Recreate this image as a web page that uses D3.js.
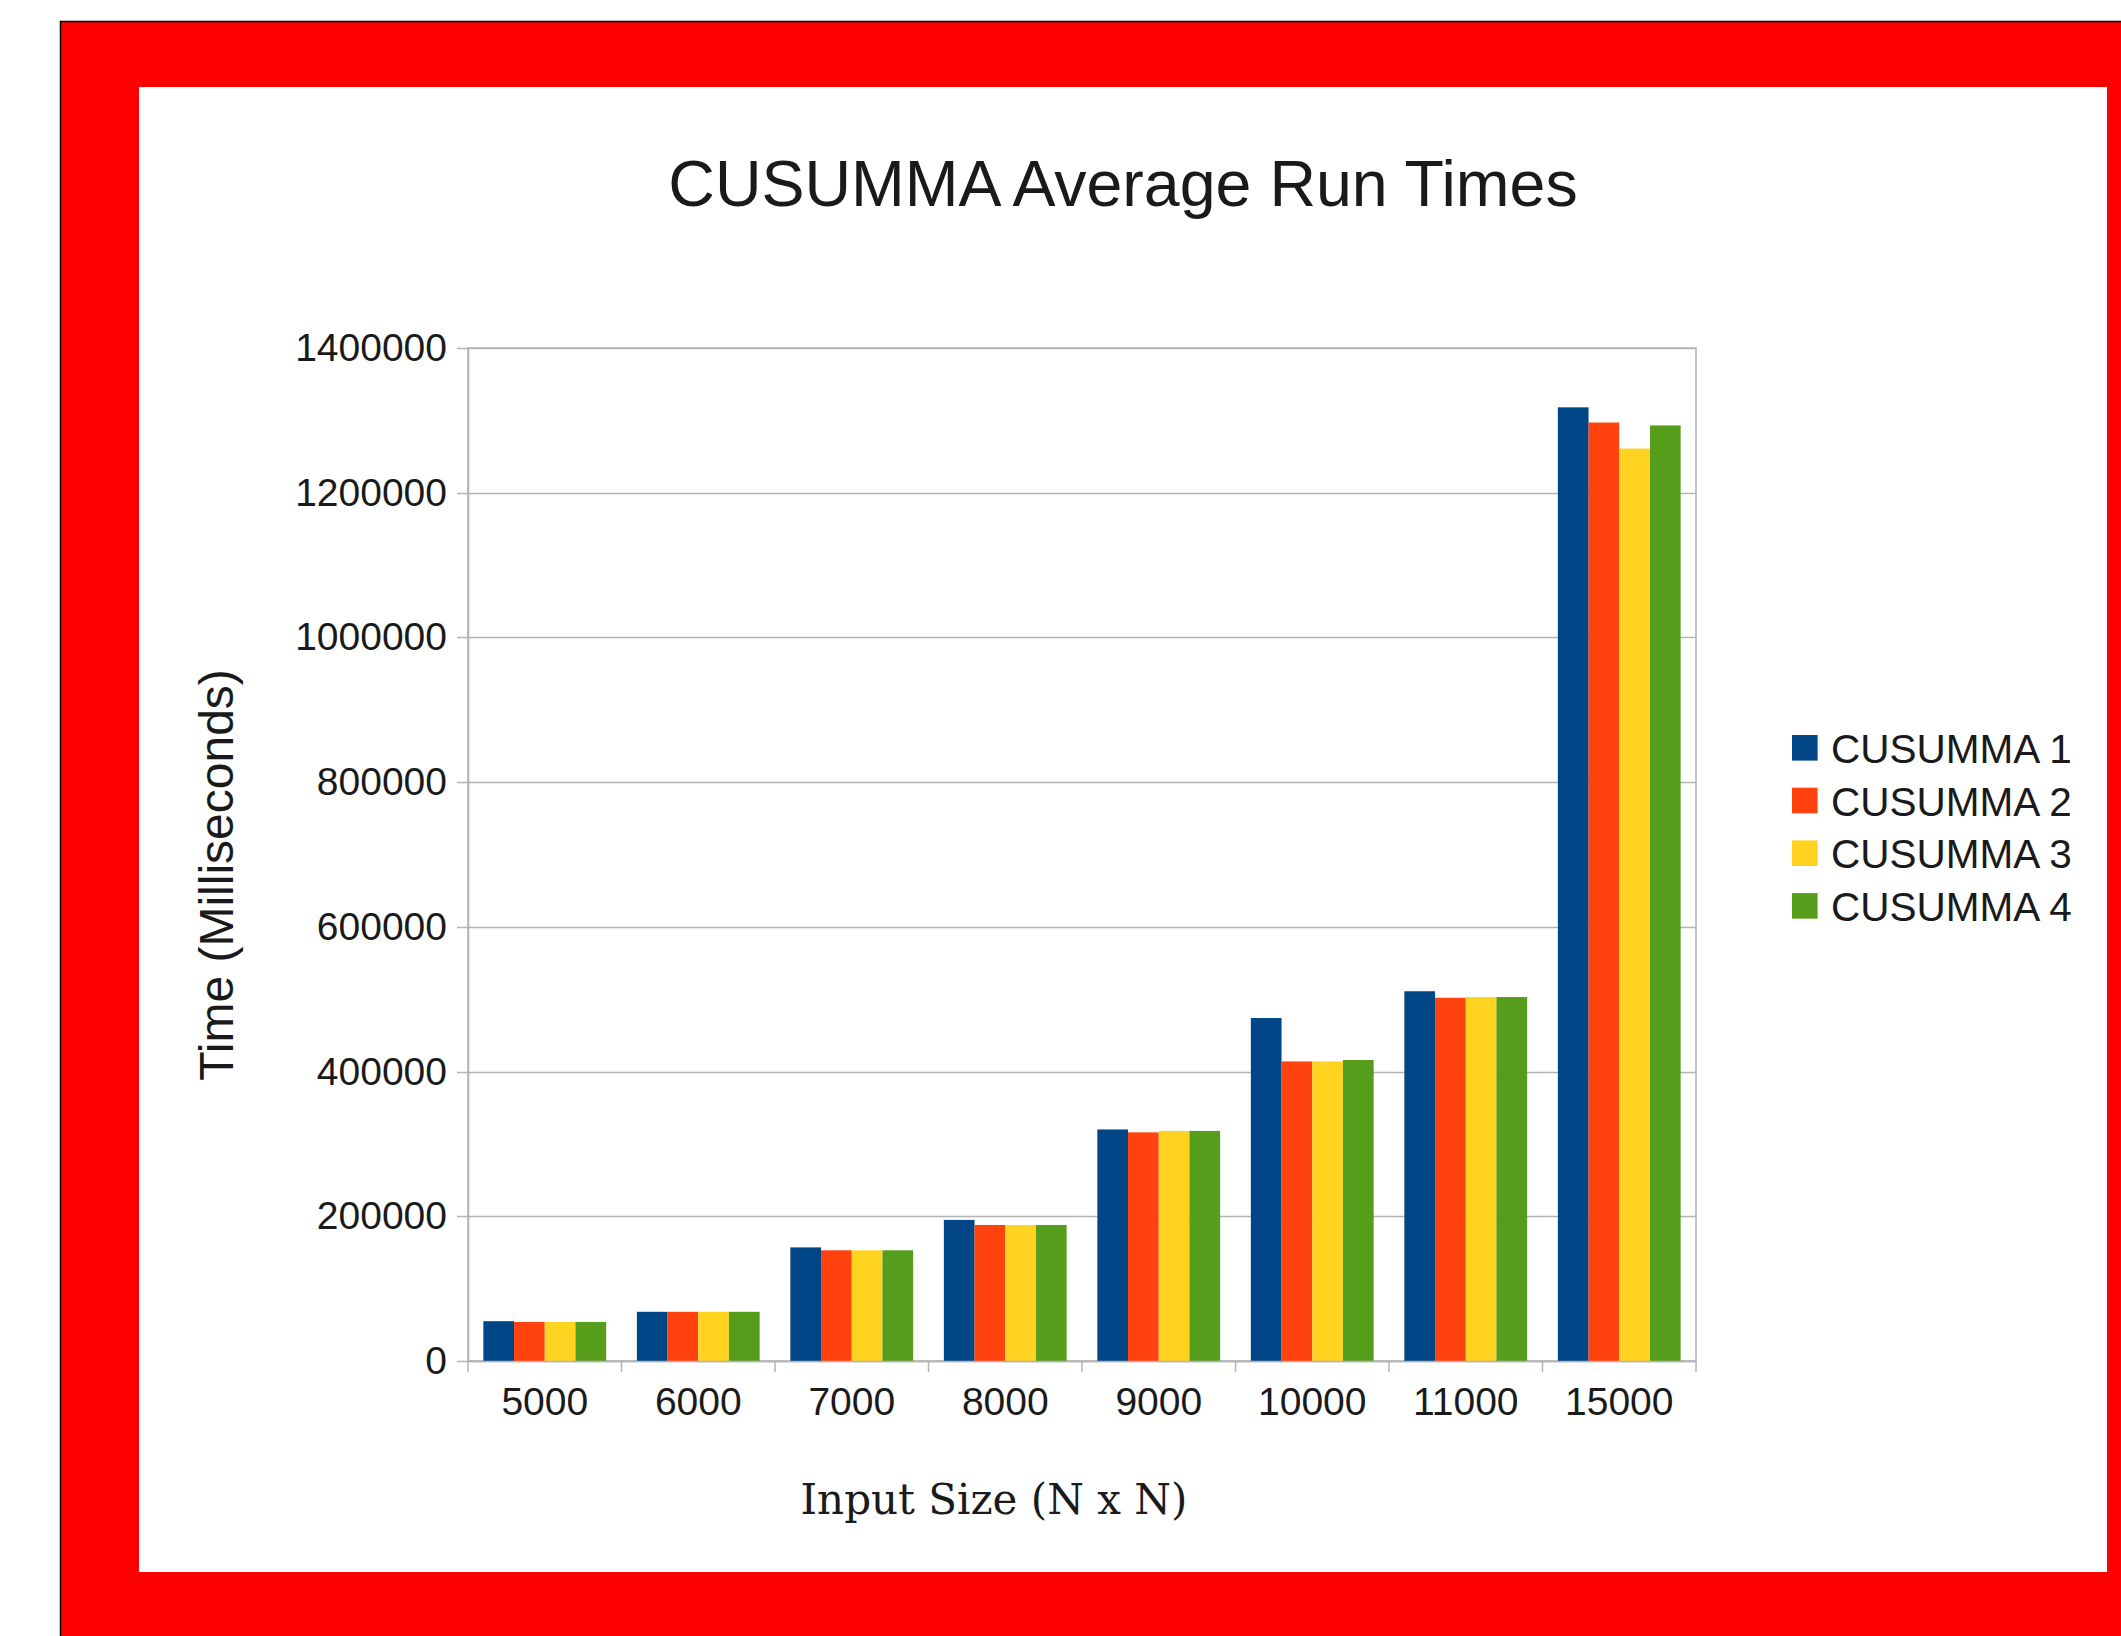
<!DOCTYPE html>
<html>
<head>
<meta charset="utf-8">
<script src="https://cdn.jsdelivr.net/npm/d3@7/dist/d3.min.js"></script>
<style>
  html, body { margin: 0; padding: 0; background: #ffffff; }
  svg { display: block; }
</style>
</head>
<body>
<script>
// Average run times (ms) per input size, for each CUSUMMA variant
const categories = ["5000", "6000", "7000", "8000", "9000", "10000", "11000", "15000"];
const seriesNames = ["CUSUMMA 1", "CUSUMMA 2", "CUSUMMA 3", "CUSUMMA 4"];
const cusumma1 = [55000, 68000, 157000, 195000, 320000, 474000, 511000, 1318000];
const cusumma2 = [54000, 68000, 153000, 188000, 316000, 414000, 502000, 1297000];
const cusumma3 = [54000, 68000, 153000, 188000, 318000, 414000, 503000, 1261000];
const cusumma4 = [54000, 68000, 153000, 188000, 318000, 416000, 503000, 1293000];
const yTicks = [0, 200000, 400000, 600000, 800000, 1000000, 1200000, 1400000];
const seriesColors = ["#004586", "#ff420e", "#ffd320", "#579d1c"];

const seriesValues = [cusumma1, cusumma2, cusumma3, cusumma4];
const table = categories.map((c, i) => ({
  category: c,
  values: seriesNames.map((s, j) => ({ series: s, value: seriesValues[j][i] }))
}));

const W = 2121, H = 1636;
const svg = d3.select("body").append("svg").attr("width", W).attr("height", H);

// Page frame: red border around a white panel
svg.append("rect").attr("x", 60.5).attr("y", 21.5).attr("width", 2200).attr("height", 1700)
  .attr("fill", "#ff0000").attr("stroke", "#000000").attr("stroke-width", 1.5);
svg.append("rect").attr("x", 139).attr("y", 87).attr("width", 2107 - 139).attr("height", 1572 - 87)
  .attr("fill", "#ffffff");

const plot = { left: 468, right: 1696, top: 348, bottom: 1361 };
const gridColor = "#b3b3b3";
const textColor = "#1a1a1a";

const x0 = d3.scaleBand().domain(categories).range([plot.left, plot.right]).paddingInner(0).paddingOuter(0);
const x1 = d3.scaleBand().domain(seriesNames).range([x0.bandwidth() * 0.1, x0.bandwidth() * 0.9]).padding(0);
const y = d3.scaleLinear().domain([0, 1400000]).range([plot.bottom, plot.top]);

// Gridlines with tick stubs on the left
svg.append("g").selectAll("line").data(yTicks).join("line")
  .attr("x1", plot.left - 11).attr("x2", plot.right)
  .attr("y1", d => Math.round(y(d)) + 0.5).attr("y2", d => Math.round(y(d)) + 0.5)
  .attr("stroke", gridColor).attr("stroke-width", 1.5);

// Plot wall outline
svg.append("rect").attr("x", plot.left).attr("y", plot.top)
  .attr("width", plot.right - plot.left).attr("height", plot.bottom - plot.top)
  .attr("fill", "none").attr("stroke", gridColor).attr("stroke-width", 1.5);

// Bars
const groups = svg.append("g").selectAll("g").data(table).join("g")
  .attr("transform", d => `translate(${x0(d.category)},0)`);
groups.selectAll("rect").data(d => d.values).join("rect")
  .attr("x", d => x1(d.series))
  .attr("width", x1.bandwidth())
  .attr("y", d => y(d.value))
  .attr("height", d => y(0) - y(d.value))
  .attr("fill", (d, i) => seriesColors[i]);

// Y axis
const yAxis = d3.axisLeft(y).tickValues(yTicks).tickSize(0).tickPadding(21).tickFormat(d3.format("d"));
const gy = svg.append("g").attr("transform", `translate(${plot.left},0)`).call(yAxis);
gy.select(".domain").attr("stroke", gridColor).attr("stroke-width", 1.5);
gy.selectAll("text").attr("font-family", "Liberation Sans, Arial, sans-serif")
  .attr("font-size", 39).attr("fill", textColor);

// X axis: ticks sit on the category boundaries
const gx = svg.append("g").attr("transform", `translate(0,${plot.bottom})`)
  .call(d3.axisBottom(x0).tickSize(0).tickPadding(26));
gx.select(".domain").attr("stroke", gridColor).attr("stroke-width", 1.5);
gx.selectAll("text").attr("font-family", "Liberation Sans, Arial, sans-serif")
  .attr("font-size", 39).attr("fill", textColor);
const boundaries = categories.map(c => x0(c)).concat([plot.right]);
gx.append("g").selectAll("line").data(boundaries).join("line")
  .attr("x1", d => d).attr("x2", d => d).attr("y1", 0).attr("y2", 11)
  .attr("stroke", gridColor).attr("stroke-width", 1.5);

// Title and axis titles
svg.append("text").attr("x", 1123).attr("y", 206).attr("text-anchor", "middle")
  .attr("font-family", "Liberation Sans, Arial, sans-serif").attr("font-size", 64.5)
  .attr("fill", textColor).text("CUSUMMA Average Run Times");

svg.append("text").attr("transform", "translate(233,875) rotate(-90)").attr("text-anchor", "middle")
  .attr("font-family", "Liberation Sans, Arial, sans-serif").attr("font-size", 48)
  .attr("fill", textColor).text("Time (Milliseconds)");

svg.append("text").attr("x", 994).attr("y", 1514).attr("text-anchor", "middle")
  .attr("font-family", "DejaVu Serif, serif").attr("font-size", 42)
  .attr("fill", textColor).text("Input Size (N x N)");

// Legend
const legend = svg.append("g").attr("transform", "translate(1792,735)");
const items = legend.selectAll("g").data(seriesNames).join("g")
  .attr("transform", (d, i) => `translate(0,${i * 52.7})`);
items.append("rect").attr("width", 25.6).attr("height", 25.6)
  .attr("fill", (d, i) => seriesColors[i]);
items.append("text").attr("x", 39).attr("y", 28)
  .attr("font-family", "Liberation Sans, Arial, sans-serif").attr("font-size", 40.5)
  .attr("fill", textColor).text(d => d);
</script>
</body>
</html>
